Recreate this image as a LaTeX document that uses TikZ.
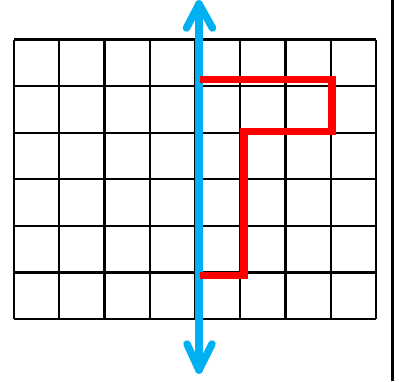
\documentclass[tikz,border=0pt]{standalone}
\usepackage{tikz}
\definecolor{axisblue}{HTML}{00B0F0}
\definecolor{pathred}{HTML}{FF0000}
\tikzset{
  gridline/.style={black, line width=2.2pt},
  axisline/.style={axisblue, line width=7.5pt, line cap=round, line join=round},
  redpath/.style={pathred, line width=7.5pt, line join=miter},
  sidebar/.style={black, line width=3.8pt}
}
\begin{document}
\begin{tikzpicture}[x=1pt,y=-1pt]
\useasboundingbox (0,0) rectangle (399,381);
% grid
\foreach \i in {0,...,8} {
  \draw[gridline] ({14+\i*45.25},39.5) -- ({14+\i*45.25},319);
}
\foreach \j in {0,...,6} {
  \draw[gridline] (14,{39.5+\j*46.6}) -- (376,{39.5+\j*46.6});
}
% blue axis with chevron heads
\coordinate (top) at (199,4);
\coordinate (bot) at (199,370);
\draw[axisline] (top) -- (bot);
\draw[axisline] (186.5,28) -- (top) -- (212.5,28);
\draw[axisline] (187,344) -- (bot) -- (212,344);
% red path
\coordinate (r0) at (199.5,79.5);
\coordinate (r1) at (332,79.5);
\coordinate (r2) at (332,131.5);
\coordinate (r3) at (244,131.5);
\coordinate (r4) at (244,275.5);
\coordinate (r5) at (199.5,275.5);
\draw[redpath] (r0) -- (r1) -- (r2) -- (r3) -- (r4) -- (r5);
% side bar
\coordinate (s0) at (392.5,0);
\coordinate (s1) at (392.5,381);
\draw[sidebar] (s0) -- (s1);
\end{tikzpicture}
\end{document}
